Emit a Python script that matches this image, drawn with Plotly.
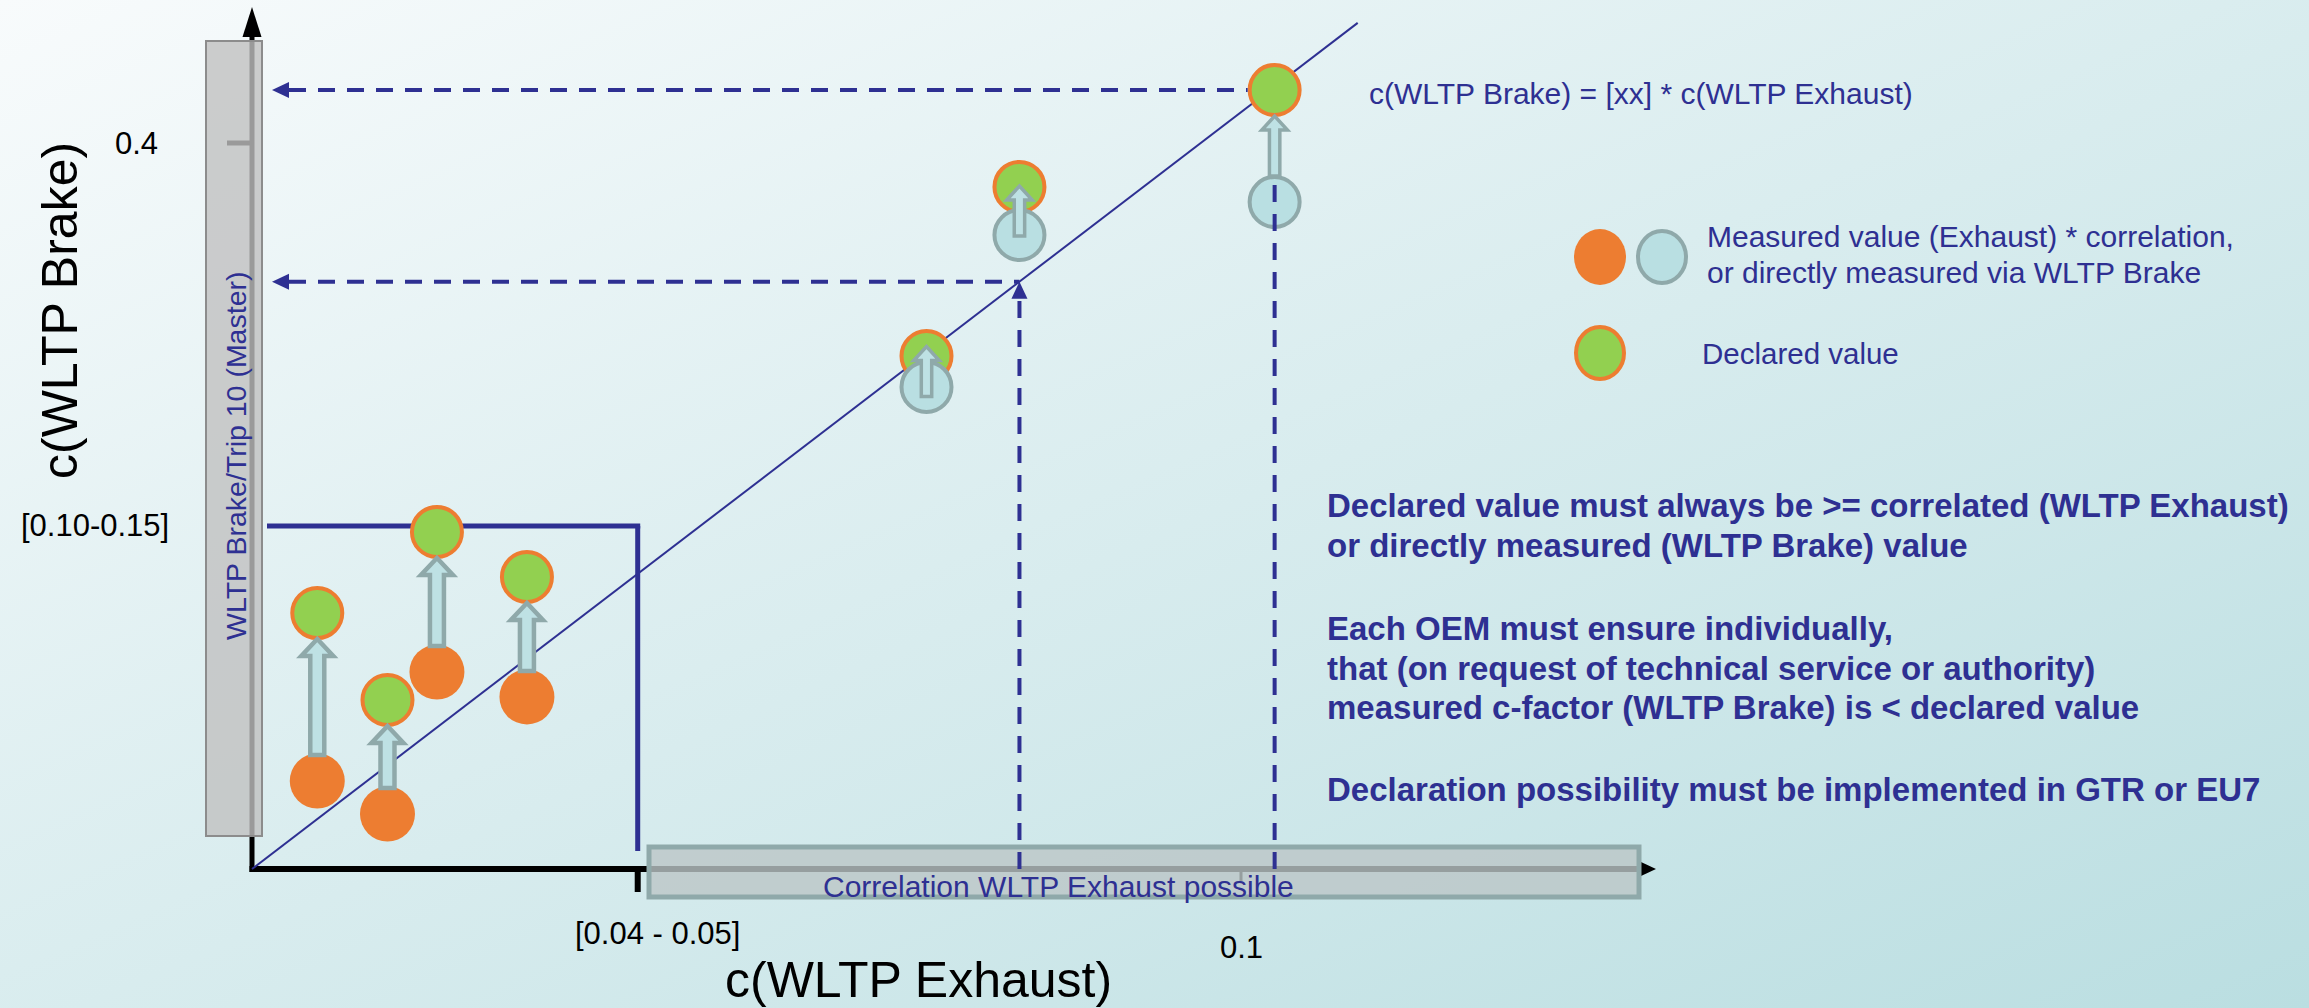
import base64
import plotly.graph_objects as go

# ---------------- data (chart units) ----------------
exhaust_c = [0.0066, 0.0137, 0.0187, 0.0278, 0.0682, 0.0776, 0.1034]      # c(WLTP Exhaust)
measured_c = [0.0485, 0.0303, 0.1085, 0.0948, 0.2656, 0.3493, 0.3675]     # measured / correlated c(WLTP Brake)
declared_c = [0.1410, 0.0931, 0.1857, 0.1609, 0.2826, 0.3758, 0.4292]     # declared value
measured_kind = ["exhaust", "exhaust", "exhaust", "exhaust", "brake", "brake", "brake"]
correlation_factor = 4.17
correlation_line_end = 0.1118
threshold_exhaust = 0.039
threshold_brake = 0.189
threshold_exhaust_label = "[0.04 - 0.05]"
threshold_brake_label = "[0.10-0.15]"
x_tick_vals = [0.1]
x_tick_text = ["0.1"]
y_tick_vals = [0.4]
y_tick_text = ["0.4"]

statements = [
    "Declared value must always be >= correlated (WLTP Exhaust)",
    "or directly measured (WLTP Brake) value",
    "",
    "Each OEM must ensure individually,",
    "that (on request of technical service or authority)",
    "measured c-factor (WLTP Brake) is < declared value",
    "",
    "Declaration possibility must be implemented in GTR or EU7",
]
legend_text_measured = ["Measured value (Exhaust) * correlation,", "or directly measured via WLTP Brake"]
legend_text_declared = "Declared value"
equation_text = "c(WLTP Brake) = [xx] * c(WLTP Exhaust)"

# ---------------- layout geometry ----------------
W, H = 2309, 1008
X0_PX, Y0_PX = 252, 869          # pixel position of the origin
PX, PY = 9890.0, 1815.0          # pixels per chart unit
x_range = [-X0_PX / PX, (W - X0_PX) / PX]
y_range = [-(H - Y0_PX) / PY, Y0_PX / PY]


def dx(p):
    return p / PX


def dy(p):
    return p / PY


def ax_x(px):          # page pixel -> x axis value (for decorations)
    return (px - X0_PX) / PX


def ax_y(py):
    return (Y0_PX - py) / PY


def paperx(p):
    return p / W


def papery(p):
    return 1 - p / H


BLUE = "#2E3092"
ORANGE = "#ED7D31"
GREEN = "#92D050"
LBLUE = "#B9DFE2"
LBLUE_LINE = "#8FA9AA"
ARROW_FILL = "#BEE1E4"
FONT = "Liberation Sans, Arial, sans-serif"

svg = (
    f'<svg xmlns="http://www.w3.org/2000/svg" width="{W}" height="{H}" preserveAspectRatio="none">'
    '<defs><linearGradient id="g" x1="0" y1="0" x2="1" y2="1">'
    '<stop offset="0" stop-color="#F8FBFC"/><stop offset="1" stop-color="#BADEE1"/>'
    '</linearGradient></defs>'
    f'<rect width="{W}" height="{H}" fill="url(#g)"/></svg>'
)
bg_uri = "data:image/svg+xml;base64," + base64.b64encode(svg.encode()).decode()

fig = go.Figure()

# declared values
fig.add_trace(go.Scatter(
    x=exhaust_c, y=declared_c, mode="markers", hoverinfo="skip",
    marker=dict(size=50, color=GREEN, line=dict(color=ORANGE, width=4)),
))
# measured via exhaust correlation
ex_x = [x for x, k in zip(exhaust_c, measured_kind) if k == "exhaust"]
ex_y = [y for y, k in zip(measured_c, measured_kind) if k == "exhaust"]
fig.add_trace(go.Scatter(
    x=ex_x, y=ex_y, mode="markers", hoverinfo="skip",
    marker=dict(size=55, color=ORANGE, line=dict(width=0)),
))
# measured directly via WLTP brake
br_x = [x for x, k in zip(exhaust_c, measured_kind) if k == "brake"]
br_y = [y for y, k in zip(measured_c, measured_kind) if k == "brake"]
fig.add_trace(go.Scatter(
    x=br_x, y=br_y, mode="markers", hoverinfo="skip",
    marker=dict(size=50, color=LBLUE, line=dict(color=LBLUE_LINE, width=4)),
))

shapes = []

# ---- below-layer shapes: axes, ticks, diagonal, threshold box, bars ----
shapes.append(dict(type="line", xref="x", yref="y", x0=0, x1=0, y0=-dy(3), y1=dy(Y0_PX - 37),
                   line=dict(color="black", width=5), layer="below"))
shapes.append(dict(type="path", xref="x", yref="y", xsizemode="pixel", ysizemode="pixel",
                   xanchor=0, yanchor=dy(Y0_PX - 37), path="M -9.5,0 L 9.5,0 L 0,30 Z",
                   fillcolor="black", line=dict(width=0), layer="below"))
x_axis_end = dx(1641 - X0_PX)
shapes.append(dict(type="line", xref="x", yref="y", x0=-dx(2.5), x1=x_axis_end, y0=0, y1=0,
                   line=dict(color="black", width=6), layer="below"))
shapes.append(dict(type="path", xref="x", yref="y", xsizemode="pixel", ysizemode="pixel",
                   xanchor=x_axis_end, yanchor=0, path="M 0,-7 L 0,7 L 15,0 Z",
                   fillcolor="black", line=dict(width=0), layer="below"))
for v in y_tick_vals:
    shapes.append(dict(type="line", xref="x", yref="y", x0=-dx(25), x1=0, y0=v, y1=v,
                       line=dict(color="black", width=5), layer="below"))
for v in x_tick_vals:
    shapes.append(dict(type="line", xref="x", yref="y", x0=v, x1=v, y0=0, y1=-dy(12),
                       line=dict(color="black", width=3), layer="below"))
shapes.append(dict(type="line", xref="x", yref="y", x0=threshold_exhaust, x1=threshold_exhaust,
                   y0=0, y1=-dy(23), line=dict(color="black", width=6), layer="below"))

# correlation line
shapes.append(dict(type="line", xref="x", yref="y", x0=0, y0=0, x1=correlation_line_end,
                   y1=correlation_factor * correlation_line_end,
                   line=dict(color=BLUE, width=2), layer="below"))
# threshold box
shapes.append(dict(type="line", xref="x", yref="y", x0=dx(15), x1=threshold_exhaust + dx(2.5),
                   y0=threshold_brake, y1=threshold_brake, line=dict(color=BLUE, width=5), layer="below"))
shapes.append(dict(type="line", xref="x", yref="y", x0=threshold_exhaust, x1=threshold_exhaust,
                   y0=threshold_brake, y1=dy(18), line=dict(color=BLUE, width=5), layer="below"))

# semi-transparent bars (drawn over the axes)
shapes.append(dict(type="rect", xref="x", yref="y", x0=ax_x(206), x1=ax_x(262),
                   y0=ax_y(836), y1=ax_y(41), fillcolor="rgba(192,192,192,0.8)",
                   line=dict(color="#8C8C8C", width=2), layer="below"))
shapes.append(dict(type="rect", xref="x", yref="y", x0=ax_x(649), x1=ax_x(1639),
                   y0=ax_y(897), y1=ax_y(847), fillcolor="rgba(188,198,199,0.8)",
                   line=dict(color="#8FA9AA", width=5), layer="below"))

# ---- above-layer shapes: dashed guide lines ----
DASH = "17px,12px"
i_top, i_mid = 6, 5
# declared max -> y axis
shapes.append(dict(type="line", xref="x", yref="y", x0=dx(37), x1=exhaust_c[i_top] - dx(27),
                   y0=declared_c[i_top], y1=declared_c[i_top], line=dict(color=BLUE, width=4, dash=DASH)))
shapes.append(dict(type="path", xref="x", yref="y", xsizemode="pixel", ysizemode="pixel",
                   xanchor=0, yanchor=declared_c[i_top], path="M 20,0 L 37,8 L 37,-8 Z",
                   fillcolor=BLUE, line=dict(width=0)))
shapes.append(dict(type="line", xref="x", yref="y", x0=exhaust_c[i_top], x1=exhaust_c[i_top],
                   y0=0, y1=measured_c[i_top] + dy(26), line=dict(color=BLUE, width=4, dash=DASH)))
# correlated value of point 6
y_corr = correlation_factor * exhaust_c[i_mid]
shapes.append(dict(type="line", xref="x", yref="y", x0=dx(37), x1=exhaust_c[i_mid],
                   y0=y_corr, y1=y_corr, line=dict(color=BLUE, width=4, dash=DASH)))
shapes.append(dict(type="path", xref="x", yref="y", xsizemode="pixel", ysizemode="pixel",
                   xanchor=0, yanchor=y_corr, path="M 20,0 L 37,8 L 37,-8 Z",
                   fillcolor=BLUE, line=dict(width=0)))
shapes.append(dict(type="line", xref="x", yref="y", x0=exhaust_c[i_mid], x1=exhaust_c[i_mid],
                   y0=0, y1=y_corr - dy(16), line=dict(color=BLUE, width=4, dash=DASH)))
shapes.append(dict(type="path", xref="x", yref="y", xsizemode="pixel", ysizemode="pixel",
                   xanchor=exhaust_c[i_mid], yanchor=y_corr, path="M 0,0 L -8,-17 L 8,-17 Z",
                   fillcolor=BLUE, line=dict(width=0)))

# ---- block arrows measured -> declared ----
for x, m, d, k in zip(exhaust_c, measured_c, declared_c, measured_kind):
    gap = (d - m) * PY
    if gap > 60:
        b, t = 26, gap - 26
    else:
        b, t = gap / 2 - 25, gap / 2 + 25
    if k == "exhaust":
        s, h, hl, lw = 7, 16, 17, 4.5
    else:
        s, h, hl, lw = 5.2, 12.8, 14, 3.5
    path = (f"M {-s},{b} L {-s},{t - hl} L {-h},{t - hl} L 0,{t} "
            f"L {h},{t - hl} L {s},{t - hl} L {s},{b} Z")
    shapes.append(dict(type="path", xref="x", yref="y", xsizemode="pixel", ysizemode="pixel",
                       xanchor=x, yanchor=m, path=path, fillcolor=ARROW_FILL,
                       line=dict(color=LBLUE_LINE, width=lw)))

# ---- legend symbols ----
def legend_ellipse(cx, cy, fill, line_color, lw, rx, ry):
    return dict(type="circle", xref="paper", yref="paper", xsizemode="pixel", ysizemode="pixel",
                xanchor=paperx(cx), yanchor=papery(cy), x0=-rx, x1=rx, y0=-ry, y1=ry,
                fillcolor=fill, line=dict(color=line_color, width=lw))


shapes.append(legend_ellipse(1600, 257, ORANGE, ORANGE, 0, 26, 28))
shapes.append(legend_ellipse(1662, 257, LBLUE, LBLUE_LINE, 4, 24, 26))
shapes.append(legend_ellipse(1600, 353, GREEN, ORANGE, 4, 24, 26))

# ---------------- annotations ----------------
ann = []


def text(x, y, s, size, color=BLUE, xanchor="center", yanchor="middle", bold=False, angle=0,
         xref="paper", yref="paper"):
    ann.append(dict(x=x, y=y, xref=xref, yref=yref, text=f"<b>{s}</b>" if bold else s,
                    showarrow=False, xanchor=xanchor, yanchor=yanchor, textangle=angle,
                    font=dict(family=FONT, size=size, color=color)))


text(paperx(60), papery(311), "c(WLTP Brake)", 50, color="black", angle=-90)
text(paperx(918), papery(980), "c(WLTP Exhaust)", 50, color="black")
for v, t in zip(y_tick_vals, y_tick_text):
    text(paperx(136), v, t, 31, color="black", yref="y")
for v, t in zip(x_tick_vals, x_tick_text):
    text(v, papery(947), t, 31, color="black", xref="x")
text(paperx(95), threshold_brake, threshold_brake_label, 31, color="black", yref="y")
text(threshold_exhaust, papery(933), threshold_exhaust_label, 31, color="black", xref="x",
     xanchor="left")
ann[-1]["xshift"] = -65
text(paperx(236), papery(456), "WLTP Brake/Trip 10 (Master)", 28.5, angle=-90)
text(paperx(1058), papery(886), "Correlation WLTP Exhaust possible", 30)
text(paperx(1367), papery(93), equation_text, 30, xanchor="left")
text(paperx(1705), papery(236), legend_text_measured[0], 30, xanchor="left")
text(paperx(1705), papery(273), legend_text_measured[1], 30, xanchor="left")
text(paperx(1700), papery(353), legend_text_declared, 29.5, xanchor="left")

line_y = [505, 545, None, 628, 668, 707, None, 789]
for s, yy in zip(statements, line_y):
    if s:
        text(paperx(1325), papery(yy), s, 33, xanchor="left", bold=True)

fig.update_layout(
    width=W, height=H,
    margin=dict(l=0, r=0, t=0, b=0, pad=0),
    paper_bgcolor="#DCEEF0",
    plot_bgcolor="rgba(0,0,0,0)",
    showlegend=False,
    xaxis=dict(range=x_range, visible=False, domain=[0, 1], fixedrange=True),
    yaxis=dict(range=y_range, visible=False, domain=[0, 1], fixedrange=True),
    shapes=shapes,
    annotations=ann,
    images=[dict(source=bg_uri, xref="paper", yref="paper", x=0, y=1, sizex=1, sizey=1,
                 xanchor="left", yanchor="top", sizing="stretch", layer="below")],
)

fig.write_html(
    "out.html",
    config={"displayModeBar": False},
    post_script="document.body.style.margin='0';document.body.style.overflow='hidden';",
)
